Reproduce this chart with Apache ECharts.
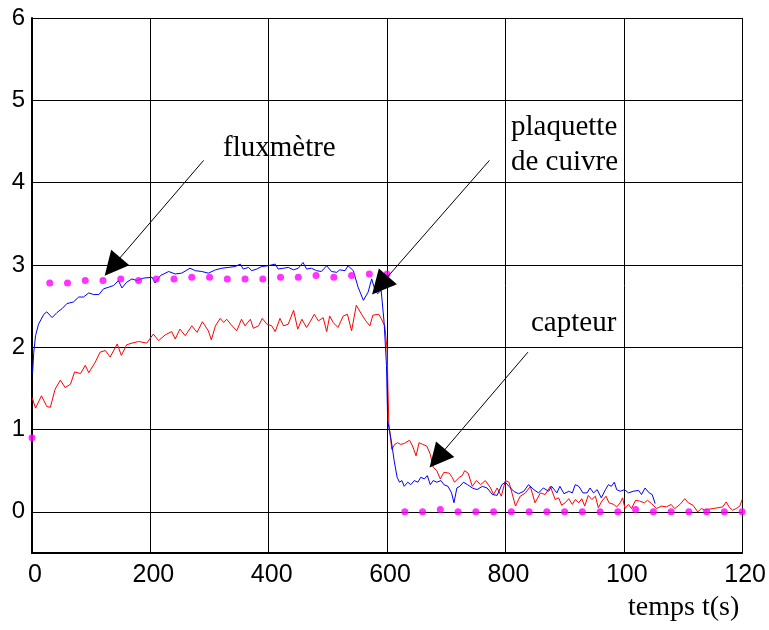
<!DOCTYPE html>
<html>
<head>
<meta charset="utf-8">
<script src="https://cdn.jsdelivr.net/npm/echarts@6/dist/echarts.min.js"></script>
<style>
  html, body { margin: 0; padding: 0; background: #fff; }
  #chart { width: 769px; height: 630px; }
</style>
</head>
<body>
<div id="chart"></div>
<script>
// tick labels as printed on the original (1000 and 1200 are cut to 3 digits)
var xTickLabels = ['0', '200', '400', '600', '800', '100', '120'];

// capteur (blue)
var blueT = [1, 3, 6, 11, 20, 25, 34, 42, 51, 59, 70, 79, 87, 96, 104, 113, 121, 130, 138, 146,
  152, 160, 169, 177, 189, 203, 208, 217, 231, 242, 253, 267, 276, 287, 298, 310, 321, 332, 343, 352,
  357, 366, 371, 380, 388, 399, 411, 416, 425, 433, 442, 450, 458, 464, 472, 481, 489, 498, 506, 515,
  520, 529, 534, 543, 551, 560, 563, 568, 574, 579, 584, 590, 595, 599, 601, 607, 612, 617, 621, 625,
  629, 635, 640, 646, 652, 657, 663, 668, 673, 678, 684, 691, 696, 703, 709, 713, 718, 723, 729, 736,
  744, 752, 761, 769, 778, 786, 794, 800, 806, 814, 822, 831, 839, 848, 856, 864, 873, 878, 887, 892,
  899, 907, 913, 918, 924, 931, 938, 943, 949, 955, 962, 969, 974, 979, 984, 988, 994, 1001, 1008, 1016,
  1025, 1030, 1036, 1043, 1048, 1053];
var blueV = [1.69, 1.94, 2.14, 2.28, 2.40, 2.43, 2.36, 2.42, 2.47, 2.53, 2.55, 2.61, 2.61, 2.66, 2.64, 2.64, 2.71, 2.73, 2.75, 2.81,
  2.72, 2.79, 2.83, 2.81, 2.84, 2.85, 2.78, 2.87, 2.92, 2.89, 2.90, 2.96, 2.93, 2.92, 2.90, 2.94, 2.96, 2.97, 2.98, 3.01,
  2.95, 2.97, 2.93, 2.95, 2.98, 2.99, 3.01, 2.95, 2.96, 2.97, 2.94, 2.96, 3.03, 2.95, 2.96, 2.93, 2.92, 2.99, 2.92, 2.91,
  2.94, 2.93, 2.99, 2.93, 2.73, 2.57, 2.55, 2.67, 2.83, 2.71, 2.65, 2.69, 2.30, 1.78, 1.11, 0.87, 0.62, 0.42, 0.36, 0.38,
  0.31, 0.36, 0.33, 0.38, 0.36, 0.42, 0.40, 0.44, 0.33, 0.38, 0.36, 0.38, 0.33, 0.31, 0.23, 0.11, 0.29, 0.31, 0.36, 0.33,
  0.29, 0.27, 0.31, 0.29, 0.21, 0.20, 0.33, 0.36, 0.31, 0.25, 0.22, 0.25, 0.33, 0.27, 0.23, 0.29, 0.25, 0.31, 0.23, 0.31,
  0.22, 0.25, 0.23, 0.33, 0.31, 0.23, 0.23, 0.29, 0.23, 0.27, 0.17, 0.27, 0.33, 0.31, 0.36, 0.27, 0.25, 0.27, 0.23, 0.25,
  0.26, 0.21, 0.29, 0.23, 0.21, 0.10];

// plaquette de cuivre (red)
var redT = [0, 6, 16, 25, 31, 39, 48, 56, 65, 72, 82, 90, 96, 107, 115, 124, 132, 144, 151, 160,
  169, 180, 194, 205, 214, 225, 236, 242, 250, 259, 270, 279, 288, 298, 303, 310, 318, 324, 329, 337,
  346, 354, 360, 369, 374, 383, 389, 397, 405, 411, 419, 425, 433, 442, 449, 456, 464, 470, 477, 484,
  492, 498, 503, 509, 517, 526, 533, 540, 548, 557, 564, 571, 576, 586, 590, 596, 600, 601.5, 603, 608,
  613, 618, 623, 629, 638, 643, 649, 654, 660, 667, 673, 678, 684, 690, 696, 705, 710, 714, 722, 727,
  731, 737, 744, 751, 758, 766, 775, 780, 786, 793, 800, 806, 811, 817, 825, 834, 842, 850, 859, 867,
  876, 884, 890, 895, 901, 907, 913, 918, 924, 929, 934, 940, 946, 952, 957, 963, 970, 975, 983, 988,
  994, 998, 1002, 1008, 1013, 1020, 1027, 1035, 1040, 1047, 1055, 1064, 1072, 1080, 1086, 1095, 1103, 1109, 1117, 1125,
  1131, 1137, 1142, 1151, 1159, 1167, 1173, 1179, 1184, 1190, 1196, 1200];
var redV = [1.39, 1.26, 1.41, 1.28, 1.27, 1.49, 1.60, 1.51, 1.55, 1.70, 1.68, 1.78, 1.69, 1.82, 1.94, 1.96, 1.88, 2.04, 1.90, 2.03,
  2.05, 2.07, 2.05, 2.16, 2.08, 2.15, 2.19, 2.10, 2.22, 2.14, 2.26, 2.18, 2.31, 2.20, 2.09, 2.26, 2.35, 2.30, 2.34, 2.27,
  2.20, 2.34, 2.26, 2.34, 2.23, 2.26, 2.35, 2.28, 2.26, 2.19, 2.35, 2.26, 2.28, 2.45, 2.22, 2.34, 2.24, 2.31, 2.40, 2.32,
  2.36, 2.19, 2.38, 2.30, 2.24, 2.38, 2.40, 2.20, 2.51, 2.40, 2.32, 2.26, 2.39, 2.40, 2.35, 2.26, 1.98, 1.49, 1.07, 0.76,
  0.82, 0.84, 0.82, 0.83, 0.87, 0.80, 0.68, 0.84, 0.82, 0.80, 0.70, 0.54, 0.50, 0.40, 0.48, 0.47, 0.42, 0.36, 0.42, 0.44,
  0.50, 0.47, 0.31, 0.38, 0.33, 0.38, 0.29, 0.21, 0.29, 0.19, 0.38, 0.36, 0.23, 0.07, 0.19, 0.23, 0.31, 0.11, 0.23, 0.21,
  0.31, 0.15, 0.17, 0.08, 0.11, 0.16, 0.09, 0.15, 0.11, 0.16, 0.07, 0.20, 0.15, 0.19, 0.05, 0.13, 0.19, 0.11, 0.09, 0.06,
  0.11, 0.17, 0.04, 0.09, 0.04, 0.14, 0.13, 0.11, 0.14, 0.10, 0.04, 0.07, 0.06, 0.09, 0.04, 0.09, 0.16, 0.11, 0.08, 0.00,
  0.04, 0.02, 0.03, 0.04, 0.05, 0.06, 0.12, 0.05, 0.02, 0.04, 0.07, 0.15];

// fluxmètre (magenta dots, every 30 s)
var dotT = [0, 30, 60, 90, 120, 150, 180, 210, 240, 270, 300, 330, 360, 390, 420, 450, 480, 510, 540, 570, 600,
  630, 660, 690, 720, 750, 780, 810, 840, 870, 900, 930, 960, 990, 1020, 1050, 1080, 1110, 1140, 1170, 1200];
var dotV = [0.90, 2.78, 2.78, 2.81, 2.81, 2.83, 2.81, 2.83, 2.83, 2.85, 2.85, 2.83, 2.83, 2.83, 2.85, 2.85, 2.87, 2.85, 2.87, 2.89, 2.89,
  0, 0, 0.03, 0, 0, 0, 0, 0, 0, 0, 0, 0, 0, 0.03, 0, 0, 0, 0, 0, 0];

// annotation arrows: [x0, y0, x1, y1] in data units (tail -> head)
var arrows = [
  [290, 4.27, 136, 2.98],
  [773, 4.27, 588, 2.75],
  [838, 1.94, 685, 0.65]
];

function pairs(t, v) {
  return t.map(function (x, i) { return [x, v[i]]; });
}

var myChart = echarts.init(document.getElementById('chart'));

myChart.setOption({
  animation: false,
  backgroundColor: '#fff',
  grid: { left: 32, right: 22, top: 18, bottom: 77, containLabel: false },
  xAxis: {
    type: 'value',
    min: 0,
    max: 1200,
    interval: 200,
    axisLine: { show: true, onZero: false, lineStyle: { color: '#000', width: 2 } },
    axisTick: { show: false },
    axisLabel: {
      color: '#000',
      fontFamily: 'Liberation Sans',
      fontSize: 25,
      margin: 10,
      padding: [0, 0, 0, 6],
      formatter: function (v) { return xTickLabels[Math.round(v / 200)]; }
    },
    splitLine: { show: true, showMinLine: true, showMaxLine: true, lineStyle: { color: '#000', width: 1 } }
  },
  yAxis: {
    type: 'value',
    min: -0.5,
    max: 6,
    interval: 0.5,
    axisLine: { show: true, onZero: false, lineStyle: { color: '#000', width: 2 } },
    axisTick: { show: false },
    axisLabel: {
      color: '#000',
      fontFamily: 'Liberation Sans',
      fontSize: 24,
      margin: 7,
      padding: [8, 0, 0, 0],
      formatter: function (v) {
        return Math.abs(v - Math.round(v)) < 1e-6 ? String(Math.round(v)) : '';
      }
    },
    splitLine: {
      show: true, showMinLine: true, showMaxLine: true,
      lineStyle: { color: ['rgba(0,0,0,0)', '#000'], width: 1 }
    }
  },
  series: [
    {
      name: 'plaquette de cuivre',
      type: 'line',
      data: pairs(redT, redV),
      showSymbol: false,
      lineStyle: { color: '#ff0000', width: 1 },
      z: 2
    },
    {
      name: 'capteur',
      type: 'line',
      data: pairs(blueT, blueV),
      showSymbol: false,
      lineStyle: { color: '#0000ff', width: 1 },
      z: 3
    },
    {
      name: 'fluxmètre',
      type: 'scatter',
      data: pairs(dotT, dotV),
      symbolSize: 7,
      itemStyle: { color: '#ff00ff' },
      z: 4,
      markLine: {
        silent: true,
        symbol: ['none', 'triangle'],
        symbolSize: 24,
        label: { show: false },
        lineStyle: { color: '#000', width: 1, type: 'solid' },
        itemStyle: { color: '#000' },
        data: arrows.map(function (a) {
          return [{ coord: [a[0], a[1]] }, { coord: [a[2], a[3]] }];
        })
      }
    }
  ],
  graphic: [
    { type: 'text', x: 223, y: 148, style: { text: 'fluxmètre', font: '29px "Liberation Serif"', fill: '#000', verticalAlign: 'middle' } },
    { type: 'text', x: 511, y: 145, style: { text: 'plaquette\nde cuivre', font: '29px "Liberation Serif"', lineHeight: 35, fill: '#000', verticalAlign: 'middle' } },
    { type: 'text', x: 531, y: 323, style: { text: 'capteur', font: '29px "Liberation Serif"', fill: '#000', verticalAlign: 'middle' } },
    { type: 'text', x: 628, y: 608, style: { text: 'temps t(s)', font: '28px "Liberation Serif"', fill: '#000', verticalAlign: 'middle' } }
  ]
});
</script>
</body>
</html>
